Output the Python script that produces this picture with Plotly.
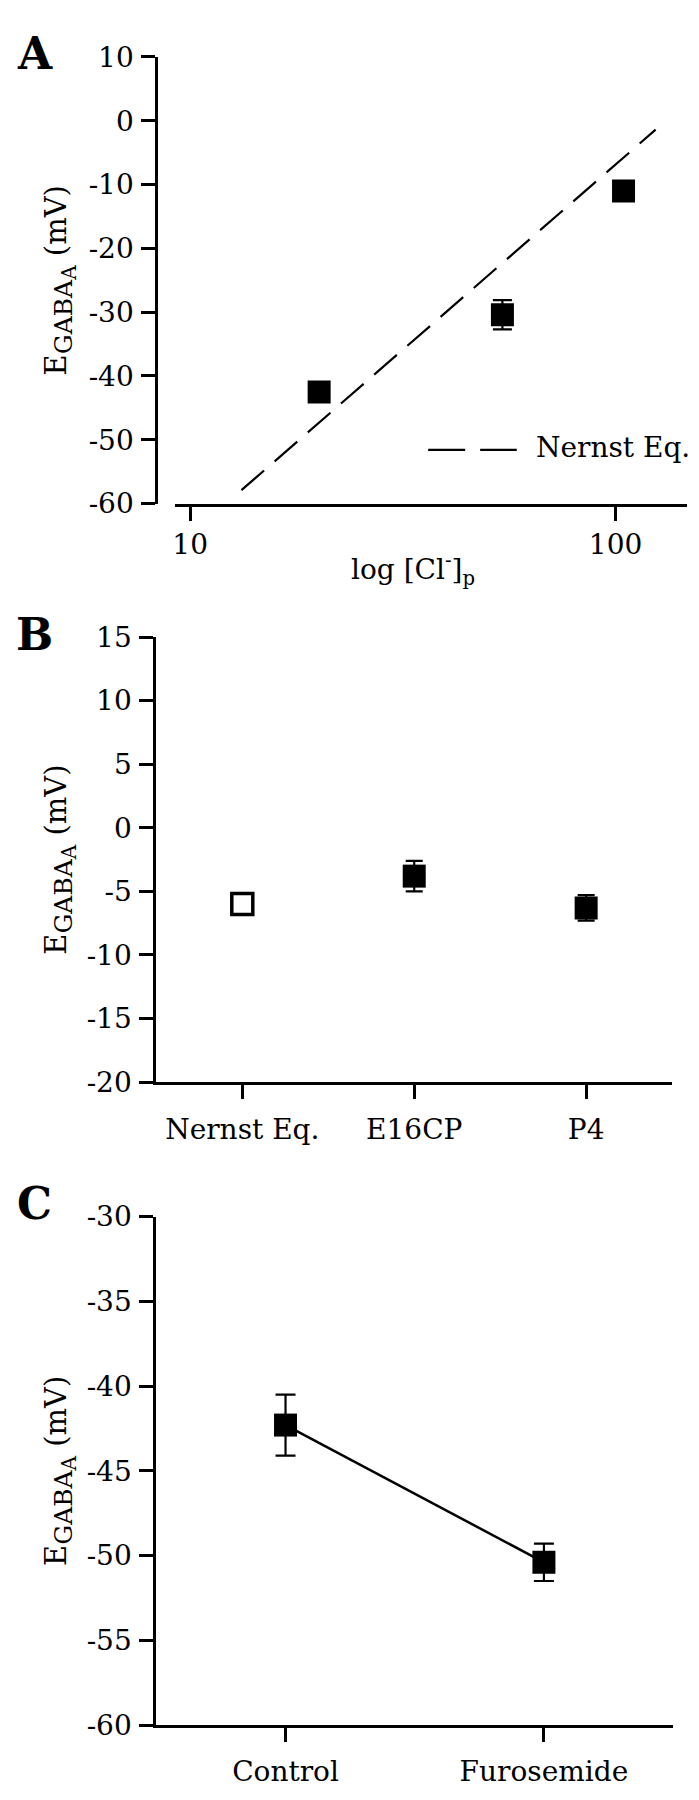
import plotly.graph_objects as go

# panel A: E_GABA_A versus pipette chloride
cl_p = [20.1, 54.2, 104.4]
e_a = [-42.5, -30.4, -11.0]
e_a_err = [1.0, 2.3, 1.0]
nernst_cl = [13.2, 124.2]
nernst_e = [-57.9, -1.4]
a_xticks = [10, 100]
a_xtext = ["10", "100"]
a_yticks = [10, 0, -10, -20, -30, -40, -50, -60]

# panel B: Nernst prediction vs recordings
b_groups = ["Nernst Eq.", "E16CP", "P4"]
b_nernst = [-6.0]
b_e = [-3.8, -6.3]
b_err = [1.2, 1.0]
b_yticks = [15, 10, 5, 0, -5, -10, -15, -20]

# panel C: control vs furosemide
c_groups = ["Control", "Furosemide"]
c_e = [-42.3, -50.4]
c_err = [1.8, 1.1]
c_yticks = [-30, -35, -40, -45, -50, -55, -60]

W, H = 699, 1800
NUM_FONT = dict(family="DejaVu Serif", size=28, color="black")
TXT_FONT = dict(family="DejaVu Serif", size=28, color="black")
TITLE_FONT = dict(family="DejaVu Serif", size=29, color="black")
YTITLE = ("E<sub><span style='font-size:25px'>GABA</span>"
          "<sub><span style='font-size:20px'>A</span></sub></sub> (mV)")


def px_x(p):
    return p / W


def px_y(p):
    return 1 - p / H


def ticktext(vals):
    # plain hyphen like the original figure, not the unicode minus
    return ["%d" % v for v in vals]


axis_style = dict(showline=True, linecolor="black", linewidth=3, ticks="outside",
                  ticklen=14, tickwidth=2.5, tickcolor="black", showgrid=False,
                  zeroline=False, mirror=False)
y_style = dict(axis_style, tickfont=NUM_FONT, ticklabelstandoff=2,
               title=dict(text=YTITLE, font=TITLE_FONT, standoff=12))

fig = go.Figure()

# A
fig.add_trace(go.Scatter(x=nernst_cl, y=nernst_e, mode="lines", xaxis="x", yaxis="y",
                         line=dict(color="black", width=2.2, dash="30px,14px"), showlegend=False))
fig.add_trace(go.Scatter(x=cl_p, y=e_a, mode="markers", xaxis="x", yaxis="y",
                         error_y=dict(type="data", array=e_a_err, color="black", thickness=2.2, width=9.5),
                         marker=dict(symbol="square", size=23, color="black"), showlegend=False))

# B
fig.add_trace(go.Scatter(x=b_groups[:1], y=b_nernst, mode="markers", xaxis="x2", yaxis="y2",
                         marker=dict(symbol="square-open", size=21, color="black", line=dict(width=3.5)),
                         showlegend=False))
fig.add_trace(go.Scatter(x=b_groups[1:], y=b_e, mode="markers", xaxis="x2", yaxis="y2",
                         error_y=dict(type="data", array=b_err, color="black", thickness=2.2, width=8.5),
                         marker=dict(symbol="square", size=23, color="black"), showlegend=False))

# C
fig.add_trace(go.Scatter(x=c_groups, y=c_e, mode="lines+markers", xaxis="x3", yaxis="y3",
                         line=dict(color="black", width=2.5),
                         error_y=dict(type="data", array=c_err, color="black", thickness=2.2, width=10),
                         marker=dict(symbol="square", size=23, color="black"), showlegend=False))

fig.update_layout(
    width=W, height=H, margin=dict(l=0, r=0, t=0, b=0),
    paper_bgcolor="white", plot_bgcolor="white", showlegend=False,
    xaxis=dict(axis_style, type="log", domain=[px_x(173), px_x(687)], range=[0.965, 2.168],
               tickvals=a_xticks, ticktext=a_xtext, tickfont=NUM_FONT, anchor="y"),
    yaxis=dict(y_style, domain=[px_y(496.7), px_y(41.7)], range=[-60, 10], anchor="free",
               position=px_x(154), tickvals=a_yticks, ticktext=ticktext(a_yticks)),
    xaxis2=dict(axis_style, type="category", domain=[px_x(154), px_x(672)], range=[-0.5, 2.5],
                tickfont=TXT_FONT, ticklabelstandoff=6, anchor="y2",
                categoryorder="array", categoryarray=b_groups),
    yaxis2=dict(y_style, domain=[px_y(1086), px_y(632.7)], range=[-20, 15], anchor="x2",
                tickvals=b_yticks, ticktext=ticktext(b_yticks)),
    xaxis3=dict(axis_style, type="category", domain=[px_x(154), px_x(673)], range=[-0.5, 1.5],
                tickfont=TXT_FONT, ticklabelstandoff=5, anchor="y3",
                categoryorder="array", categoryarray=c_groups),
    yaxis3=dict(y_style, domain=[px_y(1741), px_y(1223)], range=[-60, -30], anchor="x3",
                tickvals=c_yticks, ticktext=ticktext(c_yticks)),
)

# x title of panel A sits left of the axis centre, close under the tick labels
fig.add_annotation(text="log [Cl<sup>-</sup>]<sub>p</sub>", x=px_x(412), y=px_y(564),
                   xref="paper", yref="paper", showarrow=False, xanchor="center",
                   yanchor="middle", font=TXT_FONT)

# panel letters
for letter, yc in [("A", 38), ("B", 630), ("C", 1210)]:
    fig.add_annotation(text="<b>%s</b>" % letter, x=px_x(32), y=px_y(yc), xref="paper", yref="paper",
                       showarrow=False, xanchor="center", yanchor="middle",
                       font=dict(family="DejaVu Serif", size=44, color="black"))

# legend for the Nernst line in panel A
fig.add_shape(type="line", xref="paper", yref="paper", x0=px_x(427), x1=px_x(516),
              y0=px_y(442), y1=px_y(442), line=dict(color="black", width=2.2, dash="37px,15px"))
fig.add_annotation(text="Nernst Eq.", x=px_x(533), y=px_y(440), xref="paper", yref="paper",
                   showarrow=False, xanchor="left", yanchor="middle", font=TXT_FONT)

# the page body has an 8px default margin; drop it so the figure sits at 0,0
fig.write_html("out.html", config={"displayModeBar": False},
               post_script="document.body.style.margin='0';")
